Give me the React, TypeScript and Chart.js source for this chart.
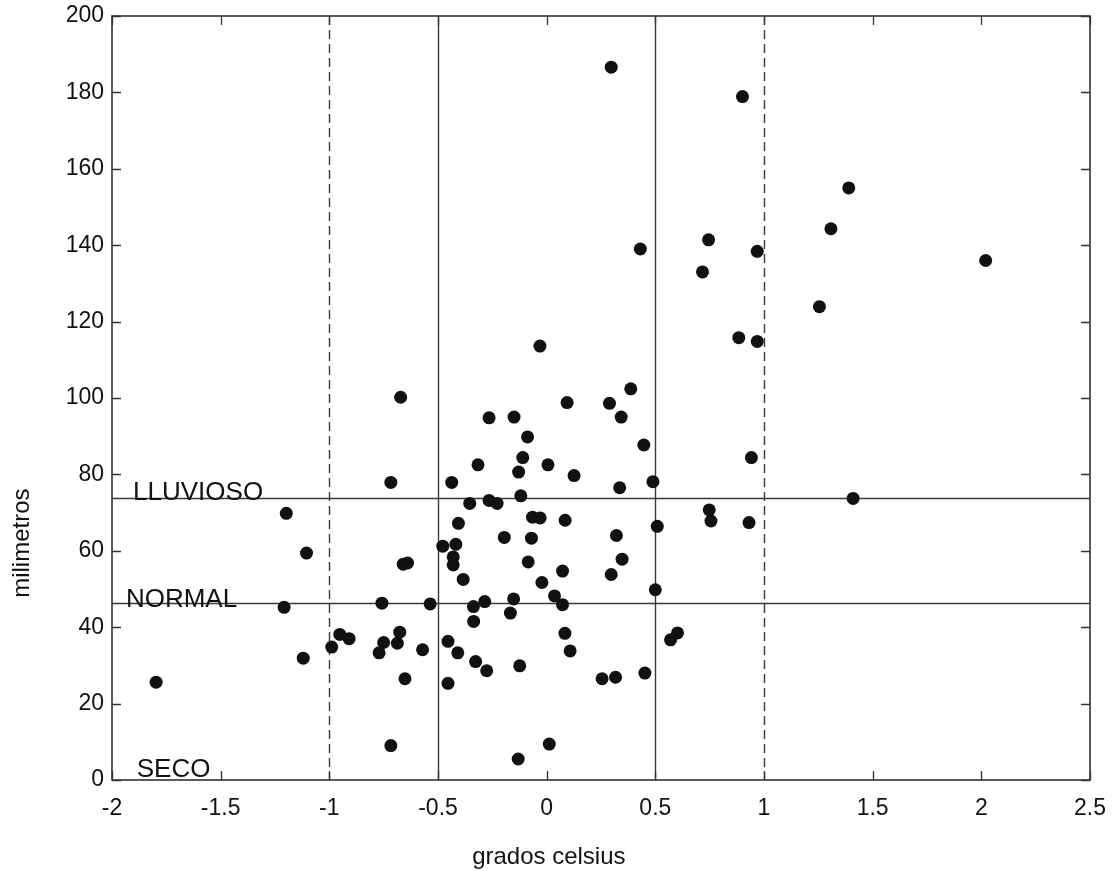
import React, { useEffect, useRef } from "react";
import { Chart, registerables } from "chart.js";

Chart.register(...registerables);

// Temperature anomaly (grados celsius)
const tempX = [
  0.297, 0.901, 1.39, 1.308, 0.431, 0.745, 0.969, 0.717, 2.02, 1.255,
  0.884, 0.969, 0.387, 0.094, 0.289, 0.343, 0.447, 0.942, 0.126, 0.336,
  0.489, 1.41, 0.748, 0.756, 0.931, 0.509, 0.321, 0.085,
  -0.031, -0.672, -0.265, -0.15, -0.088, -0.11, -0.316, 0.006, -0.129, -0.717,
  -0.437, -0.119, -0.354, -0.265, -0.228, -0.065, -0.03, -0.406, -0.195, -0.07,
  -0.478, -0.418, -0.43, -0.43, -0.66, -0.64, 0.347, -0.085, 0.073, 0.297,
  -0.384, -0.022, 0.036, 0.073, 0.5, -0.152, -0.285, -0.337, -0.536, -0.758,
  -0.167, -0.336, 0.084, 0.108, -0.676, -0.687, -0.75, -0.771, -0.571, -0.454,
  -0.409, -0.327, -0.276, -0.124, 0.57, 0.602, -0.652, -0.454, 0.255, 0.317,
  0.452,
  -1.198, -1.105, -1.208, -0.989, -0.952, -0.909, -1.12, -1.797, -0.717,
  0.012, -0.131,
];

// Precipitation (milimetros)
const rainY = [
  186.6, 178.9, 155.0, 144.3, 139.0, 141.4, 138.4, 133.0, 136.0, 123.9,
  115.8, 114.8, 102.4, 98.8, 98.6, 95.0, 87.7, 84.4, 79.7, 76.5,
  78.1, 73.7, 70.7, 67.8, 67.4, 66.4, 64.0, 68.0,
  113.6, 100.2, 94.8, 95.0, 89.8, 84.4, 82.5, 82.5, 80.6, 77.9,
  77.9, 74.4, 72.4, 73.2, 72.4, 68.8, 68.6, 67.2, 63.5, 63.3,
  61.2, 61.7, 58.4, 56.3, 56.5, 56.8, 57.8, 57.1, 54.7, 53.8,
  52.5, 51.7, 48.2, 45.9, 49.8, 47.4, 46.7, 45.4, 46.1, 46.3,
  43.7, 41.5, 38.4, 33.8, 38.7, 35.8, 36.0, 33.3, 34.1, 36.3,
  33.3, 31.0, 28.6, 29.9, 36.7, 38.5, 26.5, 25.3, 26.5, 26.9,
  28.0,
  69.8, 59.4, 45.2, 34.8, 38.1, 37.0, 31.9, 25.6, 9.0,
  9.4, 5.5,
];

const xTicks = [-2, -1.5, -1, -0.5, 0, 0.5, 1, 1.5, 2, 2.5];
const yTicks = [0, 20, 40, 60, 80, 100, 120, 140, 160, 180, 200];

const dashedX = [-1, 1];
const solidX = [-0.5, 0.5];
const wetLimit = 73.7;
const normalLimit = 46.3;

const zoneNames = ["LLUVIOSO", "NORMAL", "SECO"];
const zoneAnchorX = [-1.903, -1.936, -1.886];
const zoneAnchorY = [73.3, 45.2, 0.8];

const xTitle = "grados celsius";
const yTitle = "milimetros";

const FONT = '"Liberation Sans", Arial, Helvetica, sans-serif';

const decorPlugin = {
  id: "decor",
  beforeDatasetsDraw(chart: any) {
    const { ctx, chartArea: a, scales } = chart;
    const xs = scales.x;
    const ys = scales.y;
    ctx.save();
    ctx.strokeStyle = "#3a3a3a";
    ctx.lineWidth = 1.4;
    // vertical reference lines
    ctx.setLineDash([9, 5]);
    dashedX.forEach((v) => {
      const px = Math.round(xs.getPixelForValue(v)) + 0.5;
      ctx.beginPath();
      ctx.moveTo(px, a.top);
      ctx.lineTo(px, a.bottom);
      ctx.stroke();
    });
    ctx.setLineDash([]);
    solidX.forEach((v) => {
      const px = Math.round(xs.getPixelForValue(v)) + 0.5;
      ctx.beginPath();
      ctx.moveTo(px, a.top);
      ctx.lineTo(px, a.bottom);
      ctx.stroke();
    });
    [wetLimit, normalLimit].forEach((v) => {
      const py = Math.round(ys.getPixelForValue(v)) + 0.5;
      ctx.beginPath();
      ctx.moveTo(a.left, py);
      ctx.lineTo(a.right, py);
      ctx.stroke();
    });
    // frame
    ctx.strokeStyle = "#333";
    ctx.lineWidth = 1.6;
    ctx.strokeRect(a.left, a.top, a.right - a.left, a.bottom - a.top);
    // inward ticks
    ctx.lineWidth = 1.3;
    const tl = 9;
    xTicks.forEach((v) => {
      const px = Math.round(xs.getPixelForValue(v)) + 0.5;
      ctx.beginPath();
      ctx.moveTo(px, a.bottom);
      ctx.lineTo(px, a.bottom - tl);
      ctx.moveTo(px, a.top);
      ctx.lineTo(px, a.top + tl);
      ctx.stroke();
    });
    yTicks.forEach((v) => {
      const py = Math.round(ys.getPixelForValue(v)) + 0.5;
      ctx.beginPath();
      ctx.moveTo(a.left, py);
      ctx.lineTo(a.left + tl, py);
      ctx.moveTo(a.right, py);
      ctx.lineTo(a.right - tl, py);
      ctx.stroke();
    });
    ctx.restore();
  },
  afterDraw(chart: any) {
    const { ctx, chartArea: a, scales } = chart;
    const xs = scales.x;
    const ys = scales.y;
    ctx.save();
    ctx.fillStyle = "#111";
    ctx.font = `26px ${FONT}`;
    ctx.textAlign = "left";
    ctx.textBaseline = "alphabetic";
    zoneNames.forEach((name, i) => {
      ctx.fillText(name, xs.getPixelForValue(zoneAnchorX[i]), ys.getPixelForValue(zoneAnchorY[i]));
    });
    // axis titles
    ctx.font = `24px ${FONT}`;
    ctx.textAlign = "center";
    ctx.textBaseline = "middle";
    ctx.fillText(xTitle, xs.getPixelForValue(0.01), a.bottom + 77);
    ctx.save();
    ctx.translate(a.left - 90, ys.getPixelForValue(62));
    ctx.rotate(-Math.PI / 2);
    ctx.fillText(yTitle, 0, 0);
    ctx.restore();
    ctx.restore();
  },
};

export default function App() {
  const ref = useRef<HTMLCanvasElement | null>(null);
  useEffect(() => {
    if (!ref.current) return;
    const points = tempX.map((t, i) => ({ x: t, y: rainY[i] }));
    const chart = new Chart(ref.current, {
      type: "scatter",
      data: {
        datasets: [
          {
            label: "precipitación",
            data: points,
            backgroundColor: "#111",
            borderWidth: 0,
            pointRadius: 6.5,
            pointHoverRadius: 6.5,
          },
        ],
      },
      options: {
        animation: false,
        responsive: false,
        events: [],
        layout: { padding: { top: 16, right: 22, left: 0, bottom: 0 } },
        plugins: { legend: { display: false }, tooltip: { enabled: false } },
        scales: {
          x: {
            type: "linear",
            min: -2,
            max: 2.5,
            afterBuildTicks: (s: any) => {
              s.ticks = xTicks.map((v) => ({ value: v }));
            },
            afterFit: (s: any) => {
              s.height = 91;
              s.paddingLeft = 0;
              s.paddingRight = 0;
            },
            grid: { display: false, drawTicks: false },
            border: { display: false },
            ticks: {
              color: "#111",
              font: { family: FONT, size: 23 },
              padding: 15,
              maxRotation: 0,
              autoSkip: false,
              callback: (v: any) => String(v),
            },
          },
          y: {
            type: "linear",
            min: 0,
            max: 200,
            afterBuildTicks: (s: any) => {
              s.ticks = yTicks.map((v) => ({ value: v }));
            },
            afterFit: (s: any) => {
              s.width = 112;
              s.paddingTop = 0;
              s.paddingBottom = 0;
            },
            grid: { display: false, drawTicks: false },
            border: { display: false },
            ticks: {
              color: "#111",
              font: { family: FONT, size: 23 },
              padding: 8,
              autoSkip: false,
              callback: (v: any) => String(v),
            },
          },
        },
      },
      plugins: [decorPlugin],
    });
    return () => chart.destroy();
  }, []);
  return (
    <div style={{ position: "fixed", left: 0, top: 0, width: 1112, height: 871, background: "#fff" }}>
      <canvas ref={ref} width={1112} height={871} style={{ display: "block" }} />
    </div>
  );
}
